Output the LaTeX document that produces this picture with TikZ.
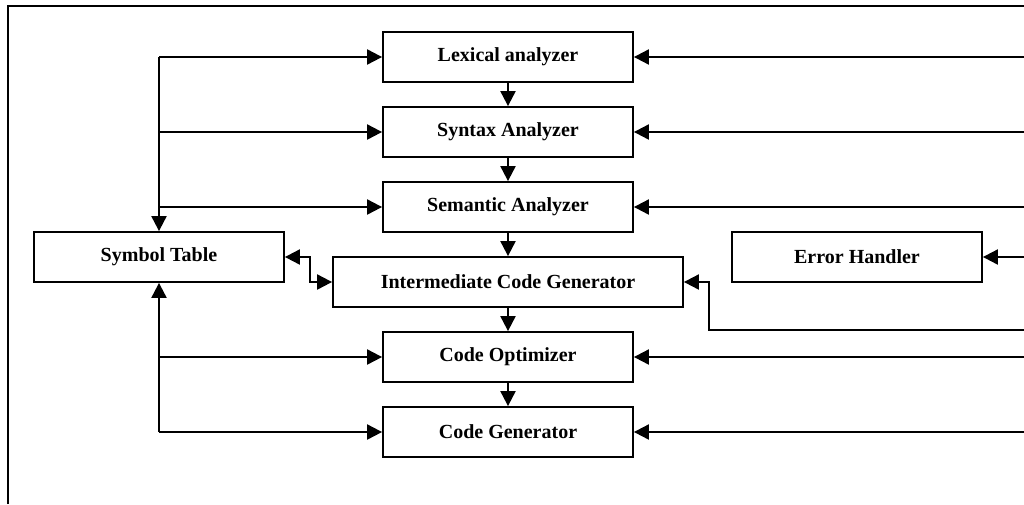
\documentclass[tikz,border=0pt]{standalone}
\usepackage{fontspec}
\setmainfont{Liberation Serif}
\usetikzlibrary{arrows.meta}
\begin{document}
\begin{tikzpicture}[x=1pt,y=-1pt,
  box/.style={draw, line width=1.8pt, minimum width=250pt, minimum height=50pt,
    inner sep=0pt, font=\bfseries\fontsize{20}{23}\selectfont},
  link/.style={line width=2pt, -{Triangle[length=15pt,width=15pt]}},
  dlink/.style={line width=2pt, {Triangle[length=15pt,width=15pt]}-{Triangle[length=15pt,width=15pt]}},
]
\useasboundingbox (0,0) rectangle (1024,504);

% outer frame
\draw[line width=2.2pt] (8,504) -- (8,6) -- (1024,6);

% compiler phases
\node[box] (lex) at (508,57)  {Lexical analyzer};
\node[box] (syn) at (508,132) {Syntax Analyzer};
\node[box] (sem) at (508,207) {Semantic Analyzer};
\node[box, minimum width=350pt] (icg) at (508,282) {Intermediate Code Generator};
\node[box] (opt) at (508,357) {Code Optimizer};
\node[box] (gen) at (508,432) {Code Generator};

\node[box] (sym) at (159,257) {Symbol Table};
\node[box] (err) at (857,257) {Error Handler};

% flow between phases
\draw[link] (lex) -- (syn);
\draw[link] (syn) -- (sem);
\draw[link] (sem) -- (icg);
\draw[link] (icg) -- (opt);
\draw[link] (opt) -- (gen);

% symbol table bus (upper)
\draw[link] (sym.north |- lex.west) -- (lex.west);
\draw[link] (sym.north |- lex.west) -- (sym.north);
\draw[link] (sym.north |- syn.west) -- (syn.west);
\draw[link] (sym.north |- sem.west) -- (sem.west);

% symbol table bus (lower)
\draw[link] (sym.south |- gen.west) -- (sym.south);
\draw[link] (sym.south |- opt.west) -- (opt.west);
\draw[link] (sym.south |- gen.west) -- (gen.west);

% symbol table <-> intermediate code generator
\draw[dlink] (sym.east) -- ++(25,0) |- (icg.west);

% error handler lines from the right
\coordinate (r1) at (1024,57);
\coordinate (r2) at (1024,132);
\coordinate (r3) at (1024,207);
\coordinate (r4) at (1024,257);
\coordinate (r5) at (1024,330);
\coordinate (r6) at (1024,357);
\coordinate (r7) at (1024,432);
\draw[link] (r1) -- (lex.east);
\draw[link] (r2) -- (syn.east);
\draw[link] (r3) -- (sem.east);
\draw[link] (r4) -- (err.east);
\draw[link] (r5) -| ([xshift=25pt]icg.east) -- (icg.east);
\draw[link] (r6) -- (opt.east);
\draw[link] (r7) -- (gen.east);
\end{tikzpicture}
\end{document}
